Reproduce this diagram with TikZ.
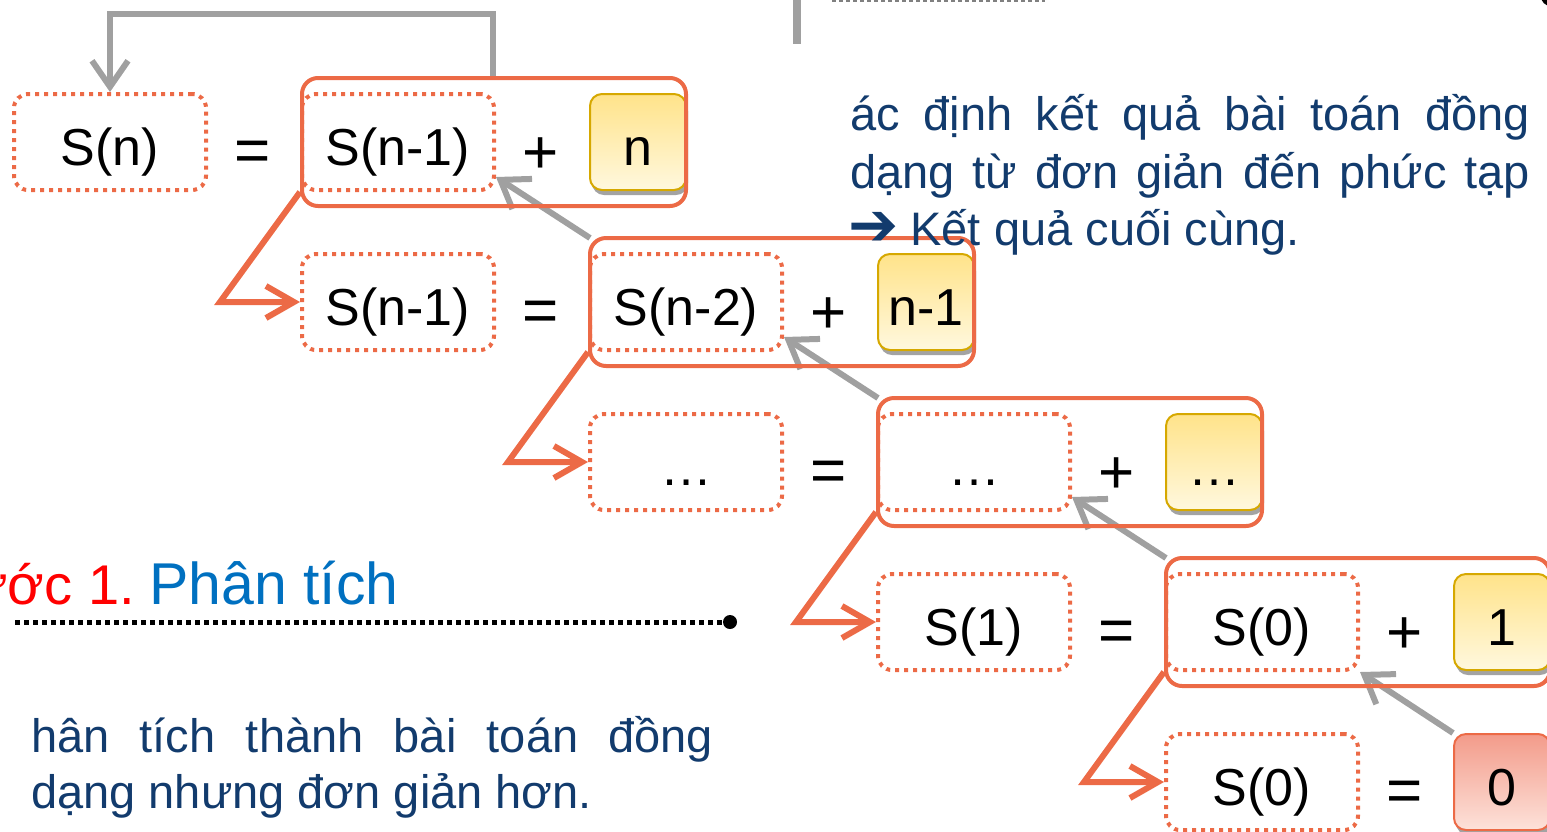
\documentclass[tikz,border=0pt]{standalone}
\usepackage{fontspec}
\setmainfont{Liberation Sans}
\newfontfamily\symfont{DejaVu Sans}
\usetikzlibrary{arrows.meta,shadows}

\definecolor{coral}{HTML}{EC6A46}
\definecolor{arrowgray}{HTML}{A0A0A0}
\definecolor{navy}{HTML}{123B6D}
\definecolor{headblue}{HTML}{0070C0}
\definecolor{headred}{HTML}{FF0000}
\definecolor{goldline}{HTML}{D6A800}
\definecolor{goldtop}{HTML}{FFE38A}
\definecolor{goldbot}{HTML}{FFF8DE}
\definecolor{pinktop}{HTML}{F39B8A}
\definecolor{pinkbot}{HTML}{FDE2DA}

\newcommand\termfont{\fontsize{52pt}{62pt}\selectfont}
\newcommand\opfont{\fontsize{62pt}{70pt}\selectfont}
\newcommand\bodyfont{\fontsize{47pt}{57pt}\selectfont}
\newcommand\headfont{\fontsize{59pt}{70pt}\selectfont}
\newcommand\stepfont{\fontsize{56pt}{70pt}\selectfont}

\begin{document}
\begin{tikzpicture}[x=1pt,y=-1pt,
  term/.style={font=\termfont, text height=50pt, text depth=4pt, inner sep=0pt,
    minimum width=192pt, minimum height=96pt},
  dotbox/.style={term, draw=coral, line width=4pt, dash pattern=on 4pt off 5pt,
    rounded corners=14pt},
  valbox/.style={term, minimum width=96pt, draw=goldline, line width=2pt,
    rounded corners=12pt, top color=goldtop, bottom color=goldbot,
    drop shadow={shadow xshift=2pt, shadow yshift=-5pt, fill=black!45, opacity=0.8}},
  basebox/.style={valbox, draw=coral, top color=pinktop, bottom color=pinkbot},
  groupbox/.style={draw=coral, line width=4pt, rounded corners=16pt,
    minimum width=384pt, minimum height=128pt, inner sep=0pt},
  op/.style={font=\opfont, anchor=base, inner sep=0pt},
  grayarr/.style={draw=arrowgray, line width=6pt, -{Straight Barb[length=26pt, width=36pt]}},
  elbow/.style={draw=coral, line width=6pt, -{Straight Barb[length=28pt, width=32pt]}},
  bodytext/.style={anchor=base west, inner sep=0pt, font=\bodyfont, text=navy}]

\useasboundingbox (0,0) rectangle (1547,831);
\clip (0,0) rectangle (1547,831);

% top fragments
\draw[arrowgray, line width=8pt] (797,0) -- (797,44);
\draw[gray, line width=2pt, dash pattern=on 4pt off 3pt] (832,1) -- (1045,1);
\fill[black] (1553,-6) circle (13pt);

% row 1: S(n) = S(n-1) + n
\node[dotbox] (s1) at (110,142) {S(n)};
\node[op] (e1) at (253,171) {=};
\node[valbox] (v1) at (638,142) {n};
\node[dotbox] (a1) at (398,142) {S(n-1)};
\node[op] (p1) at (541,173) {+};

% row 2: S(n-1) = S(n-2) + n-1
\node[dotbox] (b2) at (398,302) {S(n-1)};
\node[op] (e2) at (541,331) {=};
\node[valbox] (v2) at (926,302) {n-1};
\node[dotbox] (a2) at (686,302) {S(n-2)};
\node[op] (p2) at (829,333) {+};

% row 3: ... = ... + ...
\node[dotbox] (b3) at (686,462) {…};
\node[op] (e3) at (829,491) {=};
\node[valbox] (v3) at (1214,462) {…};
\node[dotbox] (a3) at (974,462) {…};
\node[op] (p3) at (1117,493) {+};

% row 4: S(1) = S(0) + 1
\node[dotbox] (b4) at (974,622) {S(1)};
\node[op] (e4) at (1117,651) {=};
\node[valbox] (v4) at (1502,622) {1};
\node[dotbox] (a4) at (1262,622) {S(0)};
\node[op] (p4) at (1405,653) {+};

% row 5: S(0) = 0
\node[dotbox] (b5) at (1262,782) {S(0)};
\node[op] (e5) at (1405,811) {=};
\node[basebox] (v5) at (1502,782) {0};

% results flowing back up
\draw[grayarr] ([xshift=-1pt]494,78) coordinate (g1top) -- ++(0,-64) -| (s1.north);
\draw[grayarr] (590,238) coordinate (g2corner) -- ([yshift=15pt]a1.south east);
\draw[grayarr] (878,398) coordinate (g3corner) -- ([yshift=15pt]a2.south east);
\draw[grayarr] (1166,558) coordinate (g4corner) -- ([yshift=15pt]a3.south east);
\draw[grayarr] (v5.north west) -- (a4.south east);

% grouping frames of each right-hand side
\node[groupbox] (g1) at (494,142) {};
\node[groupbox] (g2) at (782,302) {};
\node[groupbox] (g3) at (1070,462) {};
\node[groupbox] (g4) at (1358,622) {};

% decomposition steps
\draw[elbow] (a1.south west) -- ([xshift=-80pt]b2.west) -- (b2.west);
\draw[elbow] (a2.south west) -- ([xshift=-80pt]b3.west) -- (b3.west);
\draw[elbow] (a3.south west) -- ([xshift=-80pt]b4.west) -- (b4.west);
\draw[elbow] (a4.south west) -- ([xshift=-80pt]b5.west) -- (b5.west);

% heading with dotted rule
\node[anchor=base east, inner sep=0pt, font=\stepfont, text=headred] (h1) at (135,604) {Bước 1.};
\node[anchor=base west, inner sep=0pt, font=\headfont, text=headblue] (h2) at (149,604) {Phân tích};
\coordinate (rs) at (15,622);
\node[circle, fill=black, inner sep=0pt, minimum size=14pt] (re) at (730,622) {};
\draw[black, line width=5pt, dash pattern=on 5pt off 4pt] (rs) -- (re.west);

% explanatory text
\node[bodytext] (r1) at (850,130) {\makebox[680pt][s]{ác định kết quả bài toán đồng}};
\node[bodytext] (r2) at (850,188) {\makebox[680pt][s]{dạng từ đơn giản đến phức tạp}};
\node[bodytext] (r3) at (848,245) {{\symfont\fontsize{60pt}{60pt}\selectfont ➔}\hspace{12pt}Kết quả cuối cùng.};
\node[bodytext] (l1) at (31,752) {\makebox[682pt][s]{hân tích thành bài toán đồng}};
\node[bodytext] (l2) at (31,808) {dạng nhưng đơn giản hơn.};
\end{tikzpicture}
\end{document}
